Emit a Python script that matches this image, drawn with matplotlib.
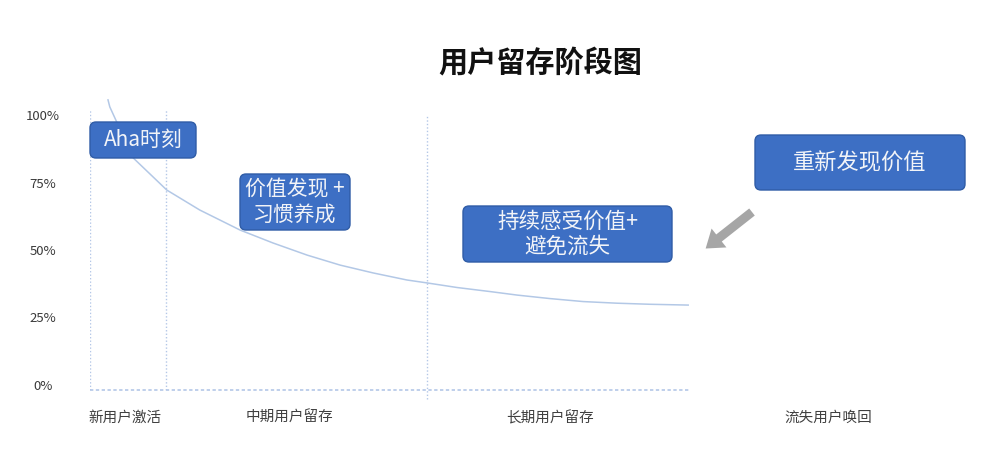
import matplotlib
matplotlib.use('Agg')
import matplotlib.pyplot as plt
from matplotlib.patches import FancyBboxPatch, FancyArrow
from matplotlib.transforms import IdentityTransform

plt.rcParams['font.family'] = ['Noto Sans CJK SC', 'DejaVu Sans']

# Retention curve (x: time, 0-100; y: retention %)
curve_x = [3.0, 3.3, 7.2, 12.8, 18.3, 25.0, 30.5, 36.2, 41.7, 47.2, 52.8,
           56.2, 61.2, 66.7, 71.2, 76.7, 82.2, 87.8, 93.3, 99.7]
curve_y = [105.6, 103.0, 84.1, 72.2, 64.8, 57.4, 52.6, 48.1, 44.4, 41.5, 38.9,
           37.8, 36.1, 34.6, 33.3, 32.0, 30.9, 30.3, 29.9, 29.6]

# stage boundaries and labels
stage_lines = [0.0, 12.7, 56.2]
stage_labels = ['新用户激活', '中期用户留存', '长期用户留存', '流失用户唤回']
stage_label_x = [5.8, 33.3, 76.7, 123.0]

y_ticks = [0, 25, 50, 75, 100]
y_tick_labels = ['0%', '25%', '50%', '75%', '100%']

box_texts = ['Aha时刻', '价值发现 +\n习惯养成', '持续感受价值+\n避免流失', '重新发现价值']

W, H = 1000, 476
fig = plt.figure(figsize=(W / 100, H / 100), dpi=100)
fig.patch.set_facecolor('white')

# axes spans pixel x 90..690, y 100..390
ax = fig.add_axes([90 / W, (H - 390) / H, 600 / W, 290 / H])
y_bottom = -(390 - 385) / 2.7
y_top = 100 + (115 - 100) / 2.7
ax.set_xlim(0, 100)
ax.set_ylim(y_bottom, y_top)
for s in ax.spines.values():
    s.set_visible(False)

line_col = '#b4c7e7'
ax.plot(curve_x, curve_y, color='#b3c8e6', lw=1.1, clip_on=False,
        solid_joinstyle='round')
ax.axhline(y_bottom, color=line_col, lw=1.2, ls=(0, (2, 1.5)), clip_on=False)
ax.vlines(stage_lines[:2], y_bottom, 102, color=line_col, lw=1, ls=(0, (1, 1.5)))
ax.vlines(stage_lines[2], -5, 100, color=line_col, lw=1, ls=(0, (1, 1.5)), clip_on=False)

ax.set_xticks([])
ax.set_yticks(y_ticks)
ax.set_yticklabels(y_tick_labels, fontsize=9.5, color='#3a3a3a',
                   fontweight='medium', ha='center')
ax.tick_params(axis='y', length=0, pad=34)

for lx, lab in zip(stage_label_x, stage_labels):
    ax.text(lx, -12.2, lab, ha='center', va='center', fontsize=10.5,
            color='#404040', clip_on=False)

fig.text(540 / W, 1 - 62 / H, '用户留存阶段图', ha='center', va='center',
         fontsize=21, fontweight='bold', color='#111111')

# blue boxes (pixel extents: x0, x1, y_top, y_bottom in image coords)
box_px = [(90, 196, 122, 158), (240, 350, 174, 230),
          (463, 672, 206, 262), (755, 965, 135, 190)]
box_fs = [15, 15, 15.5, 16]
for (x0, x1, yt, yb), txt, fs in zip(box_px, box_texts, box_fs):
    p = FancyBboxPatch((x0 + 6, H - yb + 6), x1 - x0 - 12, yb - yt - 12,
                       boxstyle='round,pad=6', transform=IdentityTransform(),
                       facecolor='#3d6fc4', edgecolor='#2f5ca6', lw=1)
    fig.patches.append(p)
    fig.text((x0 + x1) / 2 / W, 1 - (yt + yb) / 2 / H, txt, ha='center',
             va='center', fontsize=fs, color='#f2f4f8', linespacing=1.15)

arrow = FancyArrow(752, H - 212, -33, -26, width=9, head_width=24,
                   head_length=17, length_includes_head=False,
                   transform=IdentityTransform(), color='#a6a6a6', lw=0)
fig.patches.append(arrow)

fig.savefig('out.png', dpi=100)
